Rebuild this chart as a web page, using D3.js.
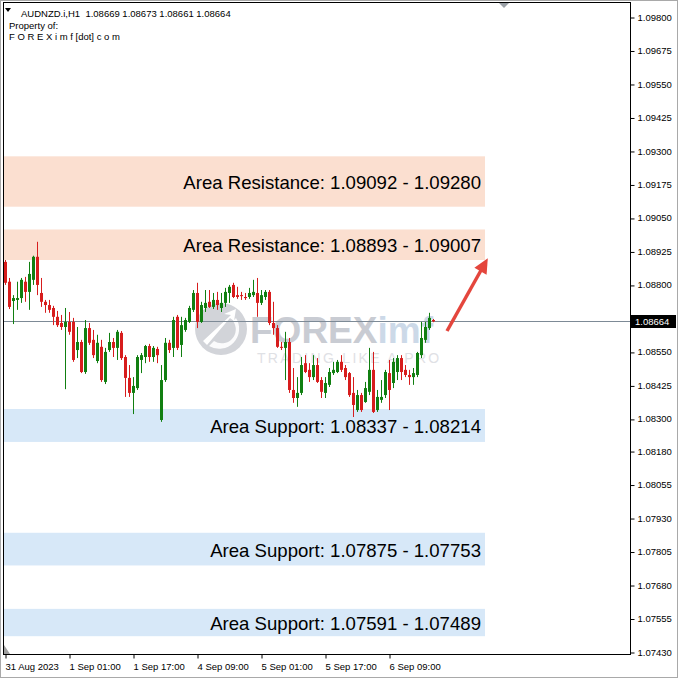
<!DOCTYPE html>
<html><head><meta charset="utf-8">
<script src="https://cdn.jsdelivr.net/npm/d3@7"></script>
<style>html,body{margin:0;padding:0;background:#fff;} svg{display:block;}</style>
</head><body><svg id="c" width="678" height="678"></svg>
<script>
const headerLines = ["AUDNZD.i,H1  1.08669 1.08673 1.08661 1.08664", "Property of:", "F O R E X i m f [dot] c o m"];
// [open, high, low, close] hourly candles
const candles = [
[1.08886,1.08893,1.08800,1.08808],[1.08812,1.08826,1.08710,1.08718],[1.08740,1.08762,1.08654,1.08751],[1.08744,1.08812,1.08707,1.08751],
[1.08751,1.08826,1.08733,1.08819],[1.08812,1.08830,1.08737,1.08774],[1.08774,1.08886,1.08707,1.08841],[1.08819,1.08909,1.08800,1.08905],
[1.08905,1.08961,1.08762,1.08800],[1.08770,1.08826,1.08718,1.08737],[1.08737,1.08744,1.08696,1.08725],[1.08725,1.08744,1.08696,1.08707],
[1.08714,1.08722,1.08650,1.08681],[1.08681,1.08703,1.08643,1.08650],[1.08658,1.08688,1.08632,1.08643],[1.08643,1.08714,1.08411,1.08662],
[1.08662,1.08699,1.08614,1.08625],[1.08662,1.08677,1.08513,1.08520],[1.08557,1.08643,1.08527,1.08587],[1.08587,1.08595,1.08471,1.08475],
[1.08475,1.08669,1.08468,1.08639],[1.08639,1.08658,1.08576,1.08584],[1.08595,1.08632,1.08527,1.08538],[1.08516,1.08614,1.08508,1.08584],
[1.08569,1.08595,1.08438,1.08445],[1.08438,1.08565,1.08430,1.08550],[1.08557,1.08621,1.08550,1.08587],[1.08587,1.08602,1.08531,1.08565],
[1.08565,1.08632,1.08520,1.08625],[1.08621,1.08628,1.08520,1.08527],[1.08531,1.08538,1.08382,1.08453],[1.08453,1.08501,1.08382,1.08397],
[1.08397,1.08456,1.08318,1.08423],[1.08415,1.08538,1.08408,1.08531],[1.08520,1.08546,1.08471,1.08538],[1.08531,1.08576,1.08508,1.08572],
[1.08572,1.08580,1.08513,1.08531],[1.08531,1.08572,1.08513,1.08565],[1.08561,1.08569,1.08508,1.08538],[1.08296,1.08501,1.08289,1.08445],
[1.08445,1.08602,1.08438,1.08584],[1.08584,1.08595,1.08546,1.08557],[1.08565,1.08681,1.08531,1.08669],[1.08681,1.08688,1.08557,1.08565],
[1.08576,1.08681,1.08531,1.08650],[1.08632,1.08677,1.08625,1.08669],[1.08662,1.08722,1.08658,1.08714],[1.08707,1.08781,1.08699,1.08770],
[1.08770,1.08808,1.08639,1.08662],[1.08662,1.08737,1.08658,1.08725],[1.08714,1.08781,1.08699,1.08733],[1.08737,1.08781,1.08714,1.08718],
[1.08718,1.08770,1.08710,1.08744],[1.08744,1.08774,1.08707,1.08725],[1.08714,1.08770,1.08699,1.08733],[1.08733,1.08789,1.08718,1.08774],
[1.08770,1.08800,1.08733,1.08793],[1.08800,1.08808,1.08751,1.08755],[1.08762,1.08793,1.08748,1.08755],[1.08762,1.08774,1.08744,1.08759],
[1.08755,1.08770,1.08744,1.08751],[1.08755,1.08789,1.08748,1.08770],[1.08762,1.08819,1.08755,1.08774],[1.08770,1.08826,1.08681,1.08733],
[1.08733,1.08781,1.08725,1.08762],[1.08755,1.08781,1.08744,1.08774],[1.08774,1.08781,1.08650,1.08658],[1.08658,1.08737,1.08614,1.08639],
[1.08639,1.08650,1.08565,1.08569],[1.08569,1.08587,1.08557,1.08565],[1.08565,1.08625,1.08445,1.08587],[1.08587,1.08602,1.08397,1.08408],
[1.08408,1.08490,1.08360,1.08378],[1.08378,1.08456,1.08345,1.08397],[1.08397,1.08531,1.08389,1.08501],[1.08508,1.08538,1.08471,1.08475],
[1.08483,1.08508,1.08438,1.08456],[1.08456,1.08538,1.08445,1.08501],[1.08501,1.08527,1.08434,1.08438],[1.08445,1.08456,1.08378,1.08401],
[1.08397,1.08456,1.08378,1.08434],[1.08427,1.08490,1.08419,1.08475],[1.08471,1.08513,1.08464,1.08483],[1.08475,1.08520,1.08471,1.08513],
[1.08513,1.08538,1.08475,1.08483],[1.08490,1.08501,1.08445,1.08456],[1.08471,1.08475,1.08382,1.08389],[1.08397,1.08456,1.08307,1.08352],
[1.08333,1.08408,1.08326,1.08389],[1.08389,1.08397,1.08326,1.08333],[1.08363,1.08438,1.08360,1.08415],[1.08401,1.08565,1.08389,1.08483],
[1.08483,1.08550,1.08322,1.08326],[1.08333,1.08408,1.08326,1.08382],[1.08371,1.08445,1.08360,1.08382],[1.08389,1.08483,1.08378,1.08475],
[1.08471,1.08520,1.08333,1.08408],[1.08434,1.08527,1.08415,1.08513],[1.08475,1.08538,1.08445,1.08527],[1.08527,1.08538,1.08445,1.08475],
[1.08483,1.08501,1.08456,1.08464],[1.08464,1.08483,1.08427,1.08456],[1.08456,1.08490,1.08427,1.08471],[1.08464,1.08550,1.08456,1.08546],
[1.08538,1.08662,1.08527,1.08602],[1.08595,1.08662,1.08584,1.08643],[1.08639,1.08696,1.08632,1.08677],[1.08669,1.08673,1.08661,1.08664]
];
const timeTickIndex = [0, 16, 32, 48, 64, 80, 96];
const timeTickLabels = ["31 Aug 2023", "1 Sep 01:00", "1 Sep 17:00", "4 Sep 09:00", "5 Sep 01:00", "5 Sep 17:00", "6 Sep 09:00"];
const priceTickLabels = ["1.09800","1.09675","1.09550","1.09425","1.09300","1.09175","1.09050","1.08925","1.08800",
  "1.08550","1.08425","1.08300","1.08180","1.08055","1.07930","1.07805","1.07680","1.07555","1.07430"];
const currentPrice = 1.08664;
const zoneKinds = ["Resistance", "Resistance", "Support", "Support", "Support"];
const zoneA = [1.09092, 1.08893, 1.08337, 1.07875, 1.07591];
const zoneB = [1.09280, 1.09007, 1.08214, 1.07753, 1.07489];
const zoneEndIndex = 120;
const arrowIdx = [110.5, 120.7];
const arrowPrice = [1.08628, 1.08900];

const svg = d3.select("#c");
const W = 678, H = 678;
const plot = {l: 3.5, r: 630.5, t: 2.5, b: 654.5};
const x = d3.scaleLinear().domain([0, 107]).range([5, 433]);
const y = d3.scaleLinear().domain([1.07430, 1.09800]).range([652, 17]);
const FONT = "'Liberation Sans', Arial, sans-serif";

svg.append("rect").attr("width", W).attr("height", H).attr("fill", "#fff");
svg.append("rect").attr("x", 0.5).attr("y", 0.5).attr("width", W - 1).attr("height", H - 1)
  .attr("fill", "none").attr("stroke", "#a9a9a9");

const defs = svg.append("defs");
defs.append("clipPath").attr("id", "pc").append("rect")
  .attr("x", plot.l).attr("y", plot.t).attr("width", plot.r - plot.l).attr("height", plot.b - plot.t);

const g = svg.append("g").attr("clip-path", "url(#pc)");

// zones
const zones = zoneKinds.map((k, i) => ({k, a: zoneA[i], b: zoneB[i]}));
g.selectAll("rect.zone").data(zones).join("rect").attr("class", "zone")
  .attr("x", plot.l)
  .attr("y", d => y(Math.max(d.a, d.b)))
  .attr("width", x(zoneEndIndex) - plot.l)
  .attr("height", d => Math.abs(y(d.a) - y(d.b)))
  .attr("fill", d => d.k === "Resistance" ? "#fbdfd0" : "#d7e8f8");

// watermark
const wm = g.append("g");
wm.append("circle").attr("cx", 221).attr("cy", 329).attr("r", 26).attr("fill", "#d2d4d9");
wm.append("path").attr("d", "M203,341 L231,315 L224,314 L236,309 L234,321 L230,318 L207,345 Z").attr("fill", "#fff");
wm.append("path").attr("d", "M236,318 A20,20 0 0 1 209,346 L214,341 A14,14 0 0 0 233,321 Z").attr("fill", "#fff").attr("opacity", 0.9);
const wt = wm.append("text").attr("x", 250).attr("y", 343).attr("font-family", FONT)
  .attr("font-weight", "bold").attr("font-size", 37);
wt.append("tspan").attr("fill", "#c9ccd3").text("FOREX");
wt.append("tspan").attr("fill", "#ccd9e8").text("imf");
wm.append("text").attr("x", 257).attr("y", 363).attr("font-family", FONT).attr("font-size", 14)
  .attr("letter-spacing", 2.3).attr("fill", "#dfe1e5").text("TRADING LIKE A PRO");

// current price line
g.append("line").attr("x1", plot.l).attr("x2", plot.r)
  .attr("y1", Math.round(y(currentPrice)) + 0.5).attr("y2", Math.round(y(currentPrice)) + 0.5)
  .attr("stroke", "#7d8a96").attr("stroke-width", 1);

// candles
const UP = "#117f11", DN = "#d71d1d";
const cg = g.selectAll("g.cdl").data(candles).join("g").attr("class", "cdl");
cg.append("line")
  .attr("x1", (d, i) => x(i) + 0.5).attr("x2", (d, i) => x(i) + 0.5)
  .attr("y1", d => y(d[1])).attr("y2", d => y(d[2]))
  .attr("stroke", d => d[3] >= d[0] ? UP : DN).attr("stroke-width", 1);
cg.append("rect")
  .attr("x", (d, i) => x(i) - 1).attr("width", 3)
  .attr("y", d => y(Math.max(d[0], d[3])))
  .attr("height", d => Math.max(1, Math.abs(y(d[0]) - y(d[3]))))
  .attr("fill", d => d[3] >= d[0] ? UP : DN);

// zone labels
svg.selectAll("text.zl").data(zones).join("text").attr("class", "zl")
  .attr("x", 481).attr("y", d => (y(d.a) + y(d.b)) / 2 + 7.5)
  .attr("text-anchor", "end").attr("font-family", FONT).attr("font-size", 18.6).attr("fill", "#000")
  .text(d => `Area ${d.k}: ${d.a.toFixed(5)} - ${d.b.toFixed(5)}`);

// arrow
const ax1 = x(arrowIdx[0]), ay1 = y(arrowPrice[0]), ax2 = x(arrowIdx[1]), ay2 = y(arrowPrice[1]);
const ang = Math.atan2(ay2 - ay1, ax2 - ax1);
const hl = 15, hw = 7;
const bx = ax2 - hl * Math.cos(ang), by = ay2 - hl * Math.sin(ang);
svg.append("line").attr("x1", ax1).attr("y1", ay1).attr("x2", bx + 2 * Math.cos(ang)).attr("y2", by + 2 * Math.sin(ang))
  .attr("stroke", "#e4463d").attr("stroke-width", 3.5);
svg.append("path").attr("d", `M${ax2},${ay2} L${bx - hw * Math.sin(ang)},${by + hw * Math.cos(ang)} L${bx + hw * Math.sin(ang)},${by - hw * Math.cos(ang)} Z`)
  .attr("fill", "#e4463d");

// frame
svg.append("rect").attr("x", plot.l).attr("y", plot.t).attr("width", plot.r - plot.l).attr("height", plot.b - plot.t)
  .attr("fill", "none").attr("stroke", "#000").attr("stroke-width", 1);

// right price axis
const priceVals = priceTickLabels.map(Number);
const yAxis = d3.axisRight(y).tickValues(priceVals).tickSize(4).tickPadding(3).tickFormat((d, i) => priceTickLabels[i]);
const ya = svg.append("g").attr("transform", `translate(${plot.r},0)`).call(yAxis);
ya.select(".domain").remove();
ya.selectAll("line").attr("stroke", "#000").attr("transform", "translate(0,0.5)");
ya.selectAll("text").attr("font-family", FONT).attr("font-size", 9.5).attr("fill", "#000");

// current price tag
const cy = Math.round(y(currentPrice));
svg.append("rect").attr("x", 631).attr("y", cy - 6).attr("width", 45).attr("height", 13).attr("fill", "#000");
svg.append("text").attr("x", 635).attr("y", cy + 4).attr("font-family", FONT).attr("font-size", 9.5)
  .attr("fill", "#fff").text(currentPrice.toFixed(5));

// bottom time axis
const xAxis = d3.axisBottom(x).tickValues(timeTickIndex).tickSize(4).tickPadding(3).tickFormat((d, i) => timeTickLabels[i]);
const xa = svg.append("g").attr("transform", `translate(0,${plot.b})`).call(xAxis);
xa.select(".domain").remove();
xa.selectAll("line").attr("stroke", "#000").attr("transform", "translate(0.5,0)");
xa.selectAll("text").attr("font-family", FONT).attr("font-size", 9.5).attr("fill", "#000")
  .attr("text-anchor", "start").attr("dy", "0.9em");

// header
svg.append("path").attr("d", "M5,8 L11,8 L8,12 Z").attr("fill", "#000");
svg.selectAll("text.hd").data(headerLines).join("text").attr("class", "hd")
  .attr("x", (d, i) => i === 0 ? 21 : 9).attr("y", (d, i) => 17 + i * 11.5)
  .attr("font-family", FONT).attr("font-size", 9.5).attr("fill", "#000")
  .style("white-space", "pre").text(d => d);

// small markers
svg.append("path").attr("d", "M499,3 L509,3 L504,8 Z").attr("fill", "#9aa0a6");
svg.append("path").attr("d", "M4,645 L4,654 L10,654 Z").attr("fill", "#a0a0a0");
</script></body></html>
